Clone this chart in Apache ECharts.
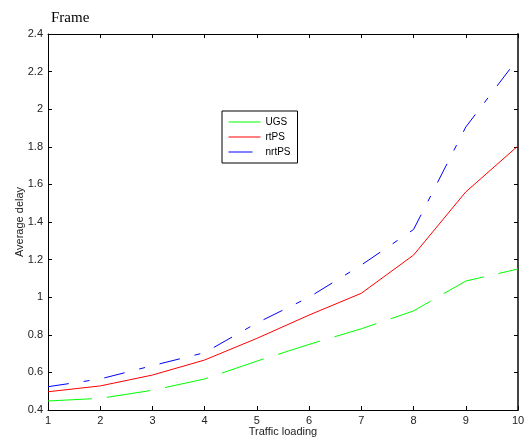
<!DOCTYPE html>
<html><head><meta charset="utf-8">
<script src="https://cdn.jsdelivr.net/npm/echarts@6/dist/echarts.min.js"></script>
<style>html,body{margin:0;padding:0;background:#fff}#c{width:531px;height:441px}</style>
</head><body><div id="c"></div>
<script>
const traffic = [1, 2, 3, 4, 5, 6, 7, 8, 9, 10];
const ugs   = [0.448, 0.462, 0.505, 0.565, 0.660, 0.749, 0.832, 0.927, 1.086, 1.150];
const rtps  = [0.497, 0.528, 0.586, 0.666, 0.781, 0.905, 1.021, 1.224, 1.560, 1.805];
const nrtps = [0.524, 0.565, 0.636, 0.705, 0.863, 1.000, 1.171, 1.360, 1.905, 2.270];
const seriesNames = ['UGS', 'rtPS', 'nrtPS'];
const titleText = 'Frame';
const xName = 'Traffic loading';
const yName = 'Average delay';

const pair = (ys) => traffic.map((x, i) => [x, ys[i]]);
const font = 'Liberation Sans, Arial, sans-serif';
const fmt = v => String(parseFloat(Number(v).toFixed(1)));

const chart = echarts.init(document.getElementById('c'), null, {renderer: 'canvas'});
chart.setOption({
  animation: false,
  backgroundColor: '#fff',
  title: {
    text: titleText, left: 46, top: 6,
    textStyle: {fontFamily: 'Liberation Serif, Times New Roman, serif', fontWeight: 'normal', fontSize: 15, color: '#000'}
  },
  grid: {left: 48, right: 13, top: 34, bottom: 31, show: false, containLabel: false, outerBoundsMode: 'none'},
  legend: {
    orient: 'vertical', left: 222, top: 111,
    data: [
      {name: seriesNames[0], lineStyle: {color: '#00ff00', type: 'solid', width: 1}},
      {name: seriesNames[1], lineStyle: {color: '#ff0000', type: 'solid', width: 1}},
      {name: seriesNames[2], lineStyle: {color: '#0000ff', type: [24, 20], width: 1}}
    ],
    backgroundColor: '#fff',
    borderColor: '#000', borderWidth: 1, borderRadius: 0,
    padding: [6, 7, 6, 6],
    itemWidth: 32, itemHeight: 11, itemGap: 5,
    lineStyle: {type: 'solid', width: 1},
    itemStyle: {opacity: 0, borderWidth: 0},
    textStyle: {fontFamily: font, fontSize: 10, color: '#000', padding: [0, 0, 0, 0]}
  },
  xAxis: [{
    type: 'value', min: 1, max: 10, interval: 1,
    name: xName, nameLocation: 'middle', nameGap: 16, nameMoveOverlap: false,
    nameTextStyle: {fontFamily: font, fontSize: 11, color: '#222'},
    axisLine: {show: true, onZero: false, lineStyle: {color: '#000', width: 1}},
    axisTick: {show: true, inside: true, length: 4, lineStyle: {color: '#000'}},
    axisLabel: {fontFamily: font, fontSize: 11, color: '#222', margin: 5},
    splitLine: {show: false}
  }, {
    type: 'value', min: 1, max: 10, interval: 1, position: 'top',
    axisLine: {show: true, onZero: false, lineStyle: {color: '#000', width: 1}},
    axisTick: {show: true, inside: true, length: 4, lineStyle: {color: '#000'}},
    axisLabel: {show: false}, splitLine: {show: false}
  }],
  yAxis: [{
    type: 'value', min: 0.4, max: 2.4, interval: 0.2,
    name: yName, nameLocation: 'middle', nameGap: 23, nameRotate: 90, nameMoveOverlap: false,
    nameTextStyle: {fontFamily: font, fontSize: 11, color: '#222'},
    axisLine: {show: true, onZero: false, lineStyle: {color: '#000', width: 1}},
    axisTick: {show: true, inside: true, length: 4, lineStyle: {color: '#000'}},
    axisLabel: {fontFamily: font, fontSize: 11, color: '#222', margin: 5, formatter: fmt},
    splitLine: {show: false}
  }, {
    type: 'value', min: 0.4, max: 2.4, interval: 0.2, position: 'right',
    axisLine: {show: true, onZero: false, lineStyle: {color: '#444', width: 2}},
    axisTick: {show: true, inside: true, length: 4, lineStyle: {color: '#000'}},
    axisLabel: {show: false}, splitLine: {show: false}
  }],
  series: [
    {name: seriesNames[0], type: 'line', data: pair(ugs), symbol: 'none', color: '#00ff00',
     lineStyle: {color: '#00ff00', width: 1, type: [44, 15]}},
    {name: seriesNames[1], type: 'line', data: pair(rtps), symbol: 'none', color: '#ff0000',
     lineStyle: {color: '#ff0000', width: 1, type: 'solid'}},
    {name: seriesNames[2], type: 'line', data: pair(nrtps), symbol: 'none', color: '#0000ff',
     lineStyle: {color: '#0000ff', width: 1, type: [21, 15, 6, 15]}}
  ]
});
</script></body></html>
